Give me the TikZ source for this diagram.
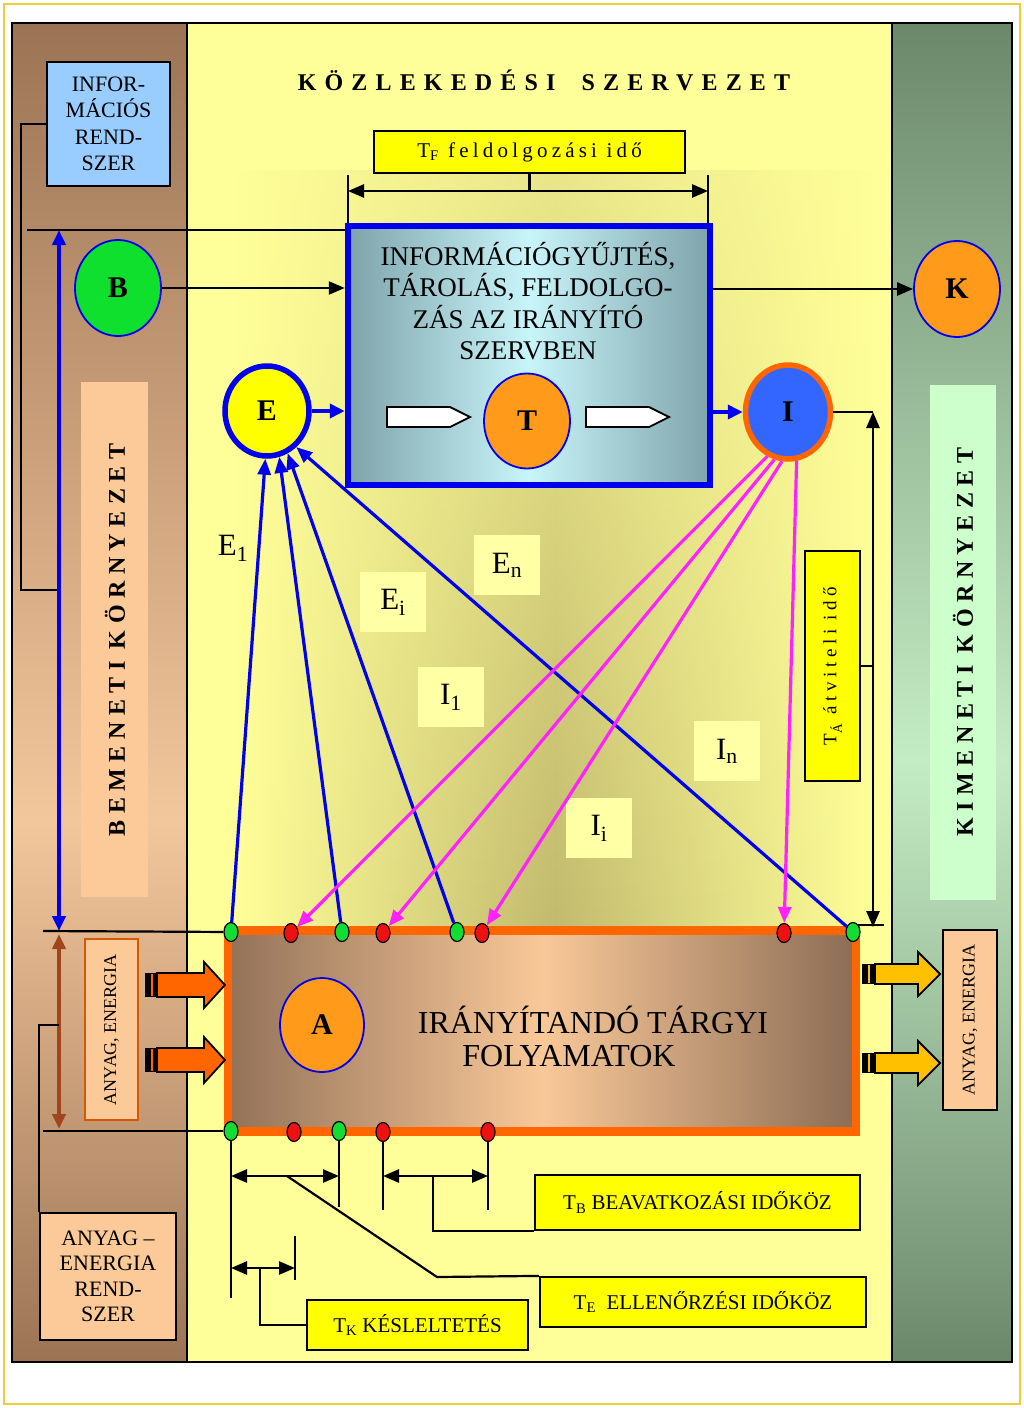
\documentclass[tikz,border=0pt]{standalone}
\usepackage{fontspec}
\setmainfont{Liberation Serif}
\newfontfamily\titlefont[LetterSpace=34]{Liberation Serif}
\newfontfamily\tffont[LetterSpace=20]{Liberation Serif}
\newfontfamily\tafont[LetterSpace=24]{Liberation Serif}
\newfontfamily\envfont[LetterSpace=27]{Liberation Serif}
\usetikzlibrary{arrows.meta,shapes.geometric,fadings,calc}
\definecolor{pyellow}{HTML}{FFFF99}
\definecolor{olive1}{HTML}{C2BA6E}
\definecolor{brownD}{HTML}{9C7455}
\definecolor{brownL}{HTML}{F3C79C}
\definecolor{greenD}{HTML}{6C886C}
\definecolor{greenL}{HTML}{C4ECC4}
\definecolor{peach}{HTML}{FCCA98}
\definecolor{lgreen}{HTML}{CCFFCC}
\definecolor{lblue}{HTML}{99CCFF}
\definecolor{orng}{HTML}{FF9A1A}
\definecolor{dorng}{HTML}{FF6600}
\definecolor{bblue}{HTML}{0000EE}
\definecolor{mag}{HTML}{FF22FF}
\definecolor{gold}{HTML}{FFC000}
\definecolor{sienna}{HTML}{A0461E}
\definecolor{teal1}{HTML}{7FA3AB}
\definecolor{cyan1}{HTML}{C8F5FA}
\definecolor{ablue}{HTML}{3366FF}
\definecolor{lyel}{HTML}{FFFFA6}
\definecolor{yel}{HTML}{FFFF00}
\definecolor{dgreen}{HTML}{11DD33}
\definecolor{dred}{HTML}{EE1111}
\definecolor{framey}{HTML}{EBCF3A}
\definecolor{abrown}{HTML}{937259}
\definecolor{alight}{HTML}{F9C898}
\tikzfading[name=vfade, top color=transparent!65, bottom color=transparent!0]
\begin{document}
\begin{tikzpicture}[x=1pt,y=-1pt,
 circ/.style={ellipse, draw=bblue, line width=1.8pt, inner sep=0pt, font=\fontsize{30}{30}\selectfont\bfseries},
 dot/.style={ellipse, draw=black, line width=1.2pt, minimum width=14pt, minimum height=19pt, inner sep=0pt},
 gdot/.style={dot, fill=dgreen},
 rdot/.style={dot, fill=dred},
 ybx/.style={draw=black, line width=2.2pt, fill=yel, inner sep=0pt},
 lbl/.style={minimum width=66pt, minimum height=60pt, inner sep=0pt, font=\fontsize{31}{31}\selectfont},
 thinl/.style={draw=black, line width=2.2pt},
 dimarr/.style={draw=black, line width=2.6pt, {Triangle[length=16pt,width=13pt]}-{Triangle[length=16pt,width=13pt]}},
 blkarr/.style={draw=black, line width=2.4pt, -{Triangle[length=16pt,width=13pt]}},
 bluarr/.style={draw=bblue, line width=4pt, -{Triangle[length=15pt,width=14pt]}},
 eline/.style={draw=bblue, line width=3.2pt, -{Triangle[length=16pt,width=13pt]}},
 iline/.style={draw=mag, line width=3.2pt, -{Triangle[length=16pt,width=13pt]}},
 envtext/.style={font={\envfont\fontsize{24}{24}\selectfont\bfseries}, rotate=90},
 tbox/.style={ybx, font=\fontsize{21}{21}\selectfont},
]
\useasboundingbox (0,0) rectangle (1024,1408);
\fill[white] (0,0) rectangle (1024,1408);
\draw[framey, line width=2.5pt] (4,4) rectangle (1020,1404);
% panels
\shade[top color=brownD, bottom color=brownL] (12,23) rectangle (187,820);
\shade[top color=brownL, bottom color=brownD] (12,820) rectangle (187,1362);
\fill[pyellow] (187,23) rectangle (892,1362);
\shade[left color=pyellow, right color=pyellow, middle color=olive1, path fading=vfade] (235,170) rectangle (875,925);
\shade[top color=greenD, bottom color=greenL] (892,23) rectangle (1012,760);
\shade[top color=greenL, bottom color=greenD] (892,760) rectangle (1012,1362);
\draw[line width=2.2pt] (12,23) rectangle (1012,1362);
\draw[line width=2.2pt] (187,23) -- (187,1362) (892,23) -- (892,1362);
% environment labels
\fill[peach] (81,382) rectangle (148,897);
\node[envtext] (benv) at (115,640) {BEMENETI KÖRNYEZET};
\fill[lgreen] (930,385) rectangle (996,900);
\node[envtext] (kenv) at (963,642) {KIMENETI KÖRNYEZET};
% title
\node[font={\titlefont\fontsize{24}{24}\selectfont\bfseries}] (title) at (544,80) {KÖZLEKEDÉSI\hspace{12pt} SZERVEZET};
% info system
\node[draw=black, line width=2.2pt, fill=lblue, minimum width=123pt, minimum height=124pt, align=center, font=\fontsize{22}{26.5}\selectfont, inner sep=0pt] (INFO) at (108.5,124) {INFOR-\\MÁCIÓS\\REND-\\SZER};
% TF
\node[ybx, minimum width=311pt, minimum height=42pt, font={\tffont\fontsize{21}{21}\selectfont}] (TF) at (529.5,152) {T\textsubscript{F} feldolgozási idő};
% central box
\node[draw=bblue, line width=6.5pt, minimum width=362pt, minimum height=259pt, inner sep=0pt, left color=teal1, right color=teal1, middle color=cyan1] (box) at (529,355.5) {};
\node[align=center, font=\fontsize{27}{31.5}\selectfont] (boxtext) at (528,301) {INFORMÁCIÓGYŰJTÉS,\\TÁROLÁS, FELDOLGO-\\ZÁS AZ IRÁNYÍTÓ\\SZERVBEN};
\fill[white, draw=black, line width=1.8pt] (387,407) -- (450,407) -- (470,417) -- (450,427) -- (387,427) -- cycle;
\fill[white, draw=black, line width=1.8pt] (586,407) -- (649,407) -- (669,417) -- (649,427) -- (586,427) -- cycle;
\node[circ, fill=orng, minimum width=86pt, minimum height=95pt] (T) at (527,421) {T};
% circles
\node[circ, fill=dgreen!90!green, minimum width=86pt, minimum height=96pt] (B) at (118,288) {B};
\node[circ, fill=orng, minimum width=86pt, minimum height=96pt] (K) at (957,289) {K};
\node[circ, fill=yel, line width=5.5pt, minimum width=84pt, minimum height=90pt] (E) at (267,411) {E};
\node[circ, fill=ablue, draw=dorng, line width=5.5pt, minimum width=85pt, minimum height=94pt] (I) at (788,412) {I};
% A box
\node[draw=dorng, line width=8.5pt, minimum width=628pt, minimum height=201pt, inner sep=0pt, left color=abrown, right color=abrown!95!black, middle color=alight] (Abox) at (542,1031) {};
\node[circ, fill=orng, minimum width=84pt, minimum height=94pt] (A) at (322,1025) {A};
\node[font=\fontsize{32}{32}\selectfont] (at1) at (593,1020) {IRÁNYÍTANDÓ TÁRGYI};
\node[font=\fontsize{32}{32}\selectfont] (at2) at (569,1056) {FOLYAMATOK};
% fat arrows
\foreach \c in {985,1060} {
 \fill[dorng, draw=black, line width=1.8pt] (157,\c-12) -- (204,\c-12) -- (204,\c-23) -- (225,\c) -- (204,\c+23) -- (204,\c+12) -- (157,\c+12) -- cycle;
 \fill[black] (145,\c-12) rectangle (157,\c+12);
 \draw[dorng, line width=1.2pt] (152,\c-11) -- (152,\c+11);
}
\foreach \c in {974,1063} {
 \fill[gold, draw=black, line width=1.8pt] (875,\c-10) -- (918,\c-10) -- (918,\c-22) -- (940,\c) -- (918,\c+22) -- (918,\c+10) -- (875,\c+10) -- cycle;
 \fill[black] (862,\c-10) rectangle (875,\c+10);
 \draw[gold, line width=1.2pt] (869,\c-9) -- (869,\c+9);
}
% anyag boxes
\node[draw=dorng!85!black, line width=2pt, fill=peach, rotate=90, minimum width=181pt, minimum height=53pt, inner sep=0pt, font=\fontsize{18}{18}\selectfont] (AEL) at (111.5,1029.5) {ANYAG, ENERGIA};
\node[draw=black, line width=2.2pt, fill=peach, rotate=90, minimum width=180pt, minimum height=54pt, inner sep=0pt, font=\fontsize{18}{18}\selectfont] (AER) at (970,1020) {ANYAG, ENERGIA};
\node[draw=black, line width=2.2pt, fill=peach, minimum width=136pt, minimum height=127pt, align=center, inner sep=0pt, font=\fontsize{22}{25.5}\selectfont] (AES) at (108,1276.5) {ANYAG –\\ENERGIA\\REND-\\SZER};
% dots
\foreach \n/\x in {g1/231, g2/342, g3/457, g4/853} \node[gdot] (\n) at (\x,932) {};
\foreach \n/\x in {r1/291, r2/383, r3/482, r4/784} \node[rdot] (\n) at (\x,933) {};
\foreach \n/\x in {gb1/231, gb2/339} \node[gdot] (\n) at (\x,1131) {};
\foreach \n/\x in {rb1/294, rb2/383, rb3/488} \node[rdot] (\n) at (\x,1132) {};
% labels
\node[lbl] (Le1) at (233,548) {E\textsubscript{1}};
\node[lbl, fill=lyel] (Lei) at (393,602) {E\textsubscript{i}};
\node[lbl, fill=lyel] (Len) at (507,565) {E\textsubscript{n}};
\node[lbl, fill=lyel] (Li1) at (451,697) {I\textsubscript{1}};
\node[lbl, fill=lyel] (Lin) at (727,751) {I\textsubscript{n}};
\node[lbl, fill=lyel] (Lii) at (599,828) {I\textsubscript{i}};
% time boxes
\node[ybx, rotate=90, minimum width=230pt, minimum height=55pt, font={\tafont\fontsize{19}{19}\selectfont}] (TA) at (832.5,666) {T\textsubscript{Á} átviteli idő};
\node[tbox, minimum width=325pt, minimum height=55pt] (TB) at (697.5,1202.5) {T\textsubscript{B} BEAVATKOZÁSI IDŐKÖZ};
\node[tbox, minimum width=326pt, minimum height=50pt] (TE) at (703,1302) {T\textsubscript{E}\ \ ELLENŐRZÉSI IDŐKÖZ};
\node[tbox, minimum width=221pt, minimum height=50pt] (TK) at (417.5,1325) {T\textsubscript{K} KÉSLELTETÉS};
% main connectors
\draw[blkarr] (B.east) -- (B.east -| box.west);
\draw[blkarr] (box.east |- K.west) -- (K.west);
\draw[bluarr] (E.east) -- (E.east -| box.west);
\draw[bluarr] (box.east |- I.west) -- (I.west);
% TF dimension
\coordinate (tfl) at (348,191);
\coordinate (tfr) at (708,191);
\coordinate (tftl) at (348,175);
\coordinate (tftr) at (708,175);
\draw[dimarr] (tfl) -- (tfr);
\draw[thinl] (tftl) -- (tftl |- box.north);
\draw[thinl] (tftr) -- (tftr |- box.north);
\draw[thinl] (TF.south) -- (TF.south |- tfl);
% top line, info connection, blue double arrow
\coordinate (topl) at (27,230);
\draw[thinl] (topl) -- (topl -| box.west);
\coordinate (bt) at (59,230);
\coordinate (bb) at (59,931);
\coordinate (c1) at (21,590);
\draw[thinl] (INFO.west) -| (c1) -- (c1 -| bt);
\draw[draw=bblue, line width=4pt, {Triangle[length=15pt,width=13pt]}-{Triangle[length=15pt,width=13pt]}] (bt) -- (bb);
% horizontal lines at the A box
\coordinate (l1) at (43,931);
\coordinate (l2) at (43,1131);
\draw[thinl] (l1) -- (g1);
\draw[thinl] (l2) -- (gb1);
\coordinate (sb1) at (59,934);
\coordinate (sb2) at (59,1129);
\draw[draw=sienna, line width=4pt, {Triangle[length=15pt,width=13pt]}-{Triangle[length=15pt,width=13pt]}] (sb1) -- (sb2);
\coordinate (c2) at (59,1025);
\draw[thinl] (c2) -- (c2 -| AES.north west) -- (AES.north west);
% E and I lines
\draw[eline] (g1) -- (E.268);
\draw[eline] (g2) -- (E.285);
\draw[eline] (g3) -- (E.296);
\draw[eline] (g4) -- (E.309);
\draw[iline] (I.245) -- (r1);
\draw[iline] (I.254) -- (r2);
\draw[iline] (I.263) -- (r3);
\draw[iline] (I.280) -- (r4);
% TA dimension
\coordinate (ta1) at (873,412);
\coordinate (ta2) at (873,927);
\coordinate (tick) at (884,927);
\draw[thinl] (I.east) -- (ta1);
\draw[dimarr] (ta1) -- (ta2);
\draw[thinl] (g4.north east) -- (g4.north east -| tick);
\draw[thinl] (TA.south) -- (TA.south -| ta1);
% bottom time dimensions
\coordinate (v1) at (231,1298);
\coordinate (v2) at (339,1207);
\coordinate (v3) at (383,1210);
\coordinate (v4) at (488,1210);
\coordinate (kt1) at (295,1236);
\coordinate (kt2) at (295,1280);
\draw[thinl] (gb1) -- (v1);
\draw[thinl] (gb2) -- (v2);
\draw[thinl] (rb2) -- (v3);
\draw[thinl] (rb3) -- (v4);
\draw[thinl] (kt1) -- (kt2);
\coordinate (teL) at (231,1176);
\coordinate (teR) at (339,1176);
\coordinate (tbL) at (383,1176);
\coordinate (tbR) at (488,1176);
\coordinate (tkL) at (231,1268);
\coordinate (tkR) at (295,1268);
\draw[dimarr] (teL) -- (teR);
\draw[dimarr] (tbL) -- (tbR);
\draw[dimarr] (tkL) -- (tkR);
\coordinate (teM) at (287,1176);
\coordinate (teK) at (437,1277);
\draw[thinl] (teM) -- (teK) -- (TE.north west);
\coordinate (tbM) at (433,1176);
\draw[thinl] (tbM) |- (TB.south west);
\coordinate (tkM) at (260,1268);
\draw[thinl] (tkM) |- (TK.west);
\end{tikzpicture}
\end{document}
